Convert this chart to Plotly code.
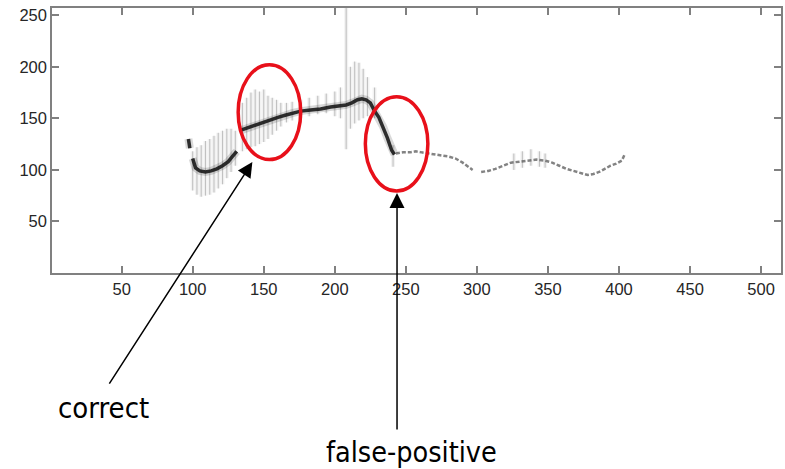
import plotly.graph_objects as go

# Contour (dark, left part)
xa = [97, 98, None, 100, 102, 105, 109, 113, 117, 121, 125, 128, 131, None,
      133, 137, 141, 145, 150, 155, 160, 165, 170, 176, 183, 190, 197, 203, 208,
      212, 216, 219, 222, 225, 228, 231, 234, 237, 240, 242]
ya = [130, 121, None, 111, 102, 99, 98, 99, 101, 104, 108, 113, 118, None,
      138, 140, 142, 144, 146, 149, 151, 153, 155, 157, 158, 159, 161, 162, 163,
      165, 168, 169, 168, 165, 157, 151, 142, 131, 119, 115]

# Contour (lighter, right part)
xb = [243, 248, 253, 257, 261, 265, 270, 275, 280, 285, 290, 294, 297, None,
      303, 308, 313, 318, 324, 330, 336, 342, 348, 353, 358, 363, 368, 373, 378,
      382, 386, 390, 394, 398, 402, 404]
yb = [116, 117, 117, 118, 117, 116, 115, 114, 113, 111, 107, 103, 100, None,
      98, 99, 101, 104, 107, 108, 109, 110, 109, 107, 104, 101, 99, 97, 95,
      96, 98, 101, 104, 106, 109, 115]

# Vertical spread (spikes) around the contour
spike_x = [100, 103, 106, 109, 112, 115, 118, 121, 124, 127, 130, 135, 138, 141,
           144, 147, 150, 153, 156, 159, 162, 166, 170, 176, 182, 188, 194, 200,
           204, 208, 211, 214, 217, 220, 223, 228, 241, 326, 332, 338, 344, 348]
spike_lo = [80, 76, 74, 75, 76, 78, 82, 86, 92, 98, 104, 118, 120, 122, 123, 125,
            127, 130, 134, 138, 142, 146, 148, 150, 152, 154, 155, 152, 150, 120,
            140, 145, 148, 150, 152, 150, 103, 100, 102, 104, 103, 102]
spike_hi = [118, 122, 124, 128, 130, 133, 136, 138, 140, 140, 138, 165, 170, 175,
            178, 176, 178, 172, 170, 168, 165, 165, 166, 168, 170, 172, 174, 176,
            180, 257, 200, 205, 204, 198, 190, 180, 124, 116, 118, 120, 118, 116]

x_ticks = [50, 100, 150, 200, 250, 300, 350, 400, 450, 500]
y_ticks = [50, 100, 150, 200, 250]

# Build spike segments
sx, sy = [], []
for x, lo, hi in zip(spike_x, spike_lo, spike_hi):
    sx += [x, x, None]
    sy += [lo, hi, None]

fig = go.Figure()
fig.add_trace(go.Scatter(x=sx, y=sy, mode="lines",
                         line=dict(color="rgba(0,0,0,0.05)", width=4),
                         hoverinfo="skip", showlegend=False))
fig.add_trace(go.Scatter(x=sx, y=sy, mode="lines",
                         line=dict(color="rgba(0,0,0,0.2)", width=1.1),
                         hoverinfo="skip", showlegend=False))
fig.add_trace(go.Scatter(x=xa, y=ya, mode="lines",
                         line=dict(color="rgba(0,0,0,0.15)", width=8),
                         hoverinfo="skip", showlegend=False))
fig.add_trace(go.Scatter(x=xa, y=ya, mode="lines",
                         line=dict(color="rgba(25,25,25,0.9)", width=3.5),
                         showlegend=False))
fig.add_trace(go.Scatter(x=xb, y=yb, mode="lines",
                         line=dict(color="rgba(90,90,90,0.75)", width=2.5, dash="4px,2px"),
                         showlegend=False))

axis_common = dict(showline=True, mirror="ticks", ticks="inside", ticklen=7,
                   linecolor="#808080", linewidth=1.5, tickcolor="#808080",
                   tickwidth=1.5, showgrid=False, zeroline=False, automargin=False,
                   tickfont=dict(family="Liberation Sans", size=16.5, color="#262626"))

fig.update_xaxes(range=[1, 514], tickvals=x_ticks, **axis_common)
fig.update_yaxes(range=[0, 257], tickvals=y_ticks, **axis_common)

fig.add_shape(type="circle", xref="x", yref="y", x0=132, x1=176, y0=110, y1=202,
              line=dict(color="#e8101a", width=3.5))
fig.add_shape(type="circle", xref="x", yref="y", x0=221.5, x1=265.5, y0=79.5, y1=171,
              line=dict(color="#e8101a", width=3.5))

fig.add_annotation(x=142, y=107.6, xref="x", yref="y", ax=-144, ay=223, text="",
                   showarrow=True, arrowhead=2, arrowsize=2, arrowwidth=1.5,
                   arrowcolor="black", standoff=0)
fig.add_annotation(x=243.8, y=77.5, xref="x", yref="y", ax=0, ay=238, text="",
                   showarrow=True, arrowhead=2, arrowsize=2, arrowwidth=1.5,
                   arrowcolor="black", standoff=0)

fig.add_annotation(x=(103 - 52) / 729, y=(273 - 408) / 265, xref="paper", yref="paper",
                   text="correct", showarrow=False, xanchor="center", yanchor="middle",
                   font=dict(family="DejaVu Sans Condensed", size=29, color="black"))
fig.add_annotation(x=(411 - 52) / 729, y=(273 - 452) / 265, xref="paper", yref="paper",
                   text="false-positive", showarrow=False, xanchor="center", yanchor="middle",
                   font=dict(family="DejaVu Sans Condensed", size=28.5, color="black"))

fig.update_layout(width=785, height=469, margin=dict(l=52, r=4, t=8, b=196),
                  paper_bgcolor="white", plot_bgcolor="white", showlegend=False)

# Remove the default 8px page margin so the figure fills the window exactly
fig.write_html("out.html", config={"displayModeBar": False},
               post_script="document.body.style.margin='0px';")
